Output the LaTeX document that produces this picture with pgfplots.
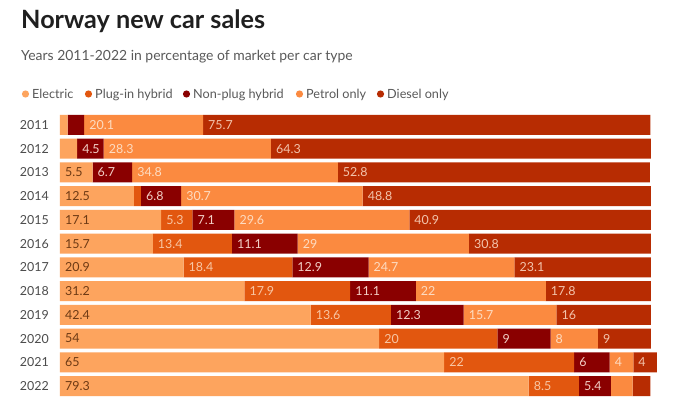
\documentclass[border=0pt]{standalone}
\usepackage{fontspec}
\setmainfont{Lato}
\usepackage{pgfplots}
\pgfplotsset{compat=1.18}
\definecolor{cEl}{HTML}{FDA45E}
\definecolor{cPl}{HTML}{E2570F}
\definecolor{cNp}{HTML}{8A0000}
\definecolor{cPe}{HTML}{FB8A40}
\definecolor{cDi}{HTML}{B72C02}
\definecolor{tEl}{HTML}{6E3A14}
\definecolor{tPl}{HTML}{F8C6A4}
\definecolor{tNp}{HTML}{F2CFC6}
\definecolor{tPe}{HTML}{FDDCC2}
\definecolor{tDi}{HTML}{F3C4AC}
\begin{document}
\begin{tikzpicture}
\fill[white] (0,0) rectangle (700bp,-411bp);
\node[anchor=base west, inner sep=0pt, font=\fontsize{25.3}{30}\selectfont\bfseries, text=black!88] at (21bp,-28bp) {Norway new car sales};
\node[anchor=base west, inner sep=0pt, font=\fontsize{14}{17}\selectfont, text=black!65] at (21bp,-60bp) {Years 2011-2022 in percentage of market per car type};
% legend
\foreach \c/\xx/\t in {cEl/32/Electric, cPl/95/Plug-in hybrid, cNp/193/Non-plug hybrid, cPe/306/Petrol only, cDi/387/Diesel only}{
  \fill[\c] (\xx bp-6.5bp,-94bp) circle (3.6bp);
  \node[anchor=base west, inner sep=0pt, font=\fontsize{12.7}{15}\selectfont, text=black!65] at (\xx bp,-98.5bp) {\t};
}
\begin{axis}[
  at={(60bp,-113.1bp)}, anchor=north west,
  scale only axis, width=596.9bp, height=284.8bp,
  xmin=0, xmax=101, ymin=-0.5, ymax=11.5, y dir=reverse,
  xbar stacked, bar width=20bp,
  axis line style={draw=none}, tick style={draw=none},
  xtick=\empty, ytick={0,...,11},
  yticklabels={2011,2012,2013,2014,2015,2016,2017,2018,2019,2020,2021,2022},
  yticklabel style={font=\fontsize{12.5}{15}\selectfont, text=black!70, anchor=east, inner sep=0pt, xshift=-11bp},
  clip=false,
  point meta=explicit symbolic,
  nodes near coords,
  visualization depends on={rawx \as \rawx},
  every node near coord/.append style={anchor=west, inner sep=0pt, font=\fontsize{12.5}{15}\selectfont, xshift={5bp-\rawx*2.955bp}},
]
\addplot[fill=cEl, draw=none, every node near coord/.append style={text=tEl}] coordinates {
(1.3,0) [] (2.9,1) [] (5.5,2) [5.5] (12.5,3) [12.5] (17.1,4) [17.1] (15.7,5) [15.7]
(20.9,6) [20.9] (31.2,7) [31.2] (42.4,8) [42.4] (54,9) [54] (65,10) [65] (79.3,11) [79.3]};
\addplot[fill=cPl, draw=none, every node near coord/.append style={text=tPl}] coordinates {
(0,0) [] (0,1) [] (0,2) [] (1.2,3) [] (5.3,4) [5.3] (13.4,5) [13.4]
(18.4,6) [18.4] (17.9,7) [17.9] (13.6,8) [13.6] (20,9) [20] (22,10) [22] (8.5,11) [8.5]};
\addplot[fill=cNp, draw=none, every node near coord/.append style={text=tNp}] coordinates {
(2.8,0) [] (4.5,1) [4.5] (6.7,2) [6.7] (6.8,3) [6.8] (7.1,4) [7.1] (11.1,5) [11.1]
(12.9,6) [12.9] (11.1,7) [11.1] (12.3,8) [12.3] (9,9) [9] (6,10) [6] (5.4,11) [5.4]};
\addplot[fill=cPe, draw=none, every node near coord/.append style={text=tPe}] coordinates {
(20.1,0) [20.1] (28.3,1) [28.3] (34.8,2) [34.8] (30.7,3) [30.7] (29.6,4) [29.6] (29,5) [29]
(24.7,6) [24.7] (22,7) [22] (15.7,8) [15.7] (8,9) [8] (4,10) [4] (3.7,11) []};
\addplot[fill=cDi, draw=none, every node near coord/.append style={text=tDi}] coordinates {
(75.7,0) [75.7] (64.3,1) [64.3] (52.8,2) [52.8] (48.8,3) [48.8] (40.9,4) [40.9] (30.8,5) [30.8]
(23.1,6) [23.1] (17.8,7) [17.8] (16,8) [16] (9,9) [9] (4,10) [4] (3,11) []};
\end{axis}
\end{tikzpicture}
\end{document}
